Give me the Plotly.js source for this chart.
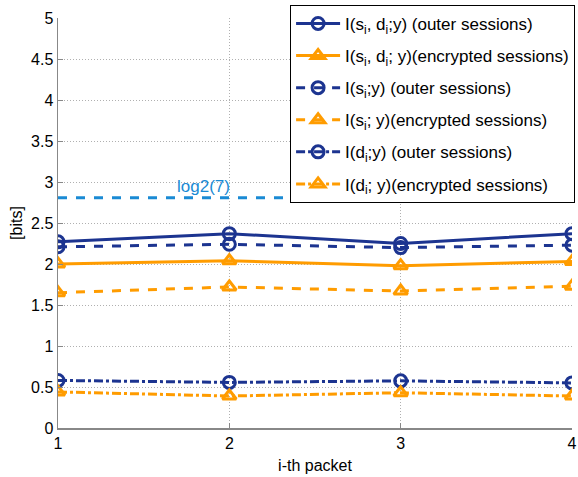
<!DOCTYPE html>
<html><head><meta charset="utf-8">
<script src="https://cdn.plot.ly/plotly-3.0.1.min.js"></script>
<style>html,body{margin:0;padding:0;background:#fff}#chart{width:578px;height:477px}</style>
</head><body><div id="chart"></div>
<script>
const packets = [1, 2, 3, 4];
const sdOuter = [2.27, 2.37, 2.25, 2.37];
const sdEnc = [2.00, 2.04, 1.98, 2.03];
const sOuter = [2.21, 2.24, 2.20, 2.23];
const sEnc = [1.65, 1.72, 1.67, 1.73];
const dOuter = [0.58, 0.556, 0.575, 0.55];
const dEnc = [0.44, 0.39, 0.43, 0.39];
const refX = [1, 4];
const refY = [Math.log2(7), Math.log2(7)];
const names = [
  "I(s<sub>i</sub>, d<sub>i</sub>;y) (outer sessions)",
  "I(s<sub>i</sub>, d<sub>i</sub>; y)(encrypted sessions)",
  "I(s<sub>i</sub>;y) (outer sessions)",
  "I(s<sub>i</sub>; y)(encrypted sessions)",
  "I(d<sub>i</sub>;y) (outer sessions)",
  "I(d<sub>i</sub>; y)(encrypted sessions)"
];
const navy = "#1c3490", orange = "#ff9c00", sky = "#1a8ad4";
function tr(y, i, color, dash, sym) {
  return {x: packets, y: y, name: names[i], type: "scatter", mode: "lines+markers",
    legendgroup: "g" + i,
    line: {color: color, width: 3, dash: dash},
    marker: {symbol: sym, size: 12, color: color, line: {color: color, width: 3}}};
}
const data = [
  {x: refX, y: refY, type: "scatter", mode: "lines", showlegend: false, hoverinfo: "skip",
   line: {color: sky, width: 3, dash: "dash"}},
  tr(sdOuter, 0, navy, "solid", "circle-open"),
  tr(sdEnc, 1, orange, "solid", "triangle-up-open"),
  tr(sOuter, 2, navy, "dash", "circle-open"),
  tr(sEnc, 3, orange, "dash", "triangle-up-open"),
  tr(dOuter, 4, navy, "dashdot", "circle-open"),
  tr(dEnc, 5, orange, "dashdot", "triangle-up-open")
];
const gridStyle = {showgrid: true, gridcolor: "#b0b0b0", griddash: "1px,2px", gridwidth: 1, zeroline: false,
  showline: true, linecolor: "#888", linewidth: 1.5, ticks: "inside", ticklen: 5, tickcolor: "#888",
  ticklabeloverflow: "allow", tickfont: {size: 16}};
const layout = {
  width: 578, height: 477,
  margin: {l: 58, r: 3, t: 18, b: 49},
  paper_bgcolor: "#fff", plot_bgcolor: "#fff",
  font: {family: "Liberation Sans, Arial, sans-serif", size: 16, color: "#000"},
  xaxis: Object.assign({range: [1, 4], tickvals: packets, ticktext: ["1","2","3","4"],
    title: {text: "i-th packet", font: {size: 16}, standoff: 9}}, gridStyle),
  yaxis: Object.assign({range: [0, 5], dtick: 0.5,
    title: {text: "[bits]", font: {size: 16}, standoff: 4}}, gridStyle),
  legend: {x: 1.006, y: 1.032, xanchor: "right", yanchor: "top", bgcolor: "#fff",
    bordercolor: "#000", borderwidth: 1, font: {size: 17}, tracegroupgap: 7, itemwidth: 44},
  annotations: [{x: 1.85, y: Math.log2(7), xref: "x", yref: "y", text: "log2(7)", showarrow: false,
    yanchor: "bottom", yshift: 0, font: {color: sky, size: 17}}],
  showlegend: true
};
Plotly.newPlot("chart", data, layout, {displayModeBar: false, staticPlot: true});
</script></body></html>
